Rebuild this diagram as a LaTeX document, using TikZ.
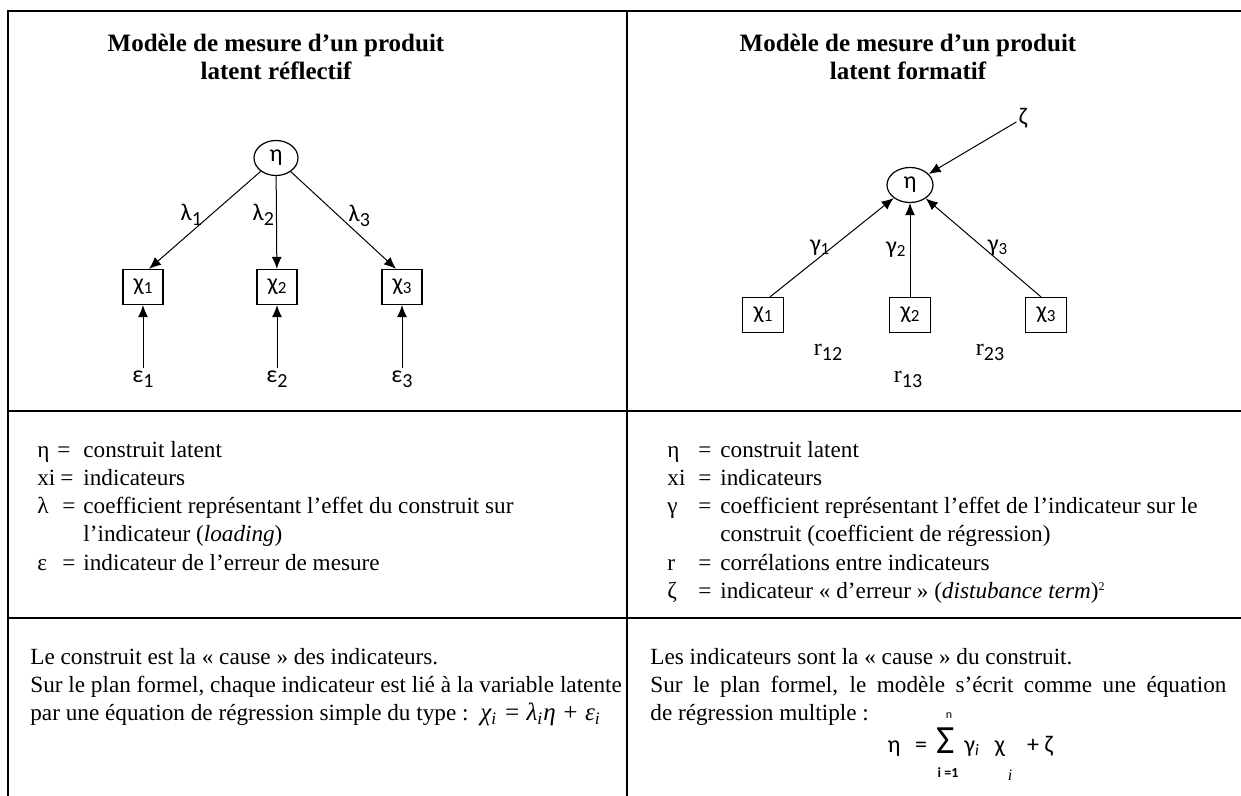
\documentclass[tikz,border=0pt]{standalone}
\usepackage{fontspec}
\setmainfont{Liberation Serif}
\newfontfamily\diagfont{Carlito}
\usetikzlibrary{arrows.meta,positioning,shapes.geometric}

\newcommand{\dsub}[1]{\raisebox{-1.5pt}{\fontsize{8.5}{8.5}\selectfont #1}}
\newcommand{\lsub}[1]{\raisebox{-2.5pt}{\fontsize{10}{10}\selectfont #1}}

\tikzset{
  rule/.style={line width=1pt},
  latent/.style={draw,ellipse,line width=0.6pt,minimum width=22pt,minimum height=17.5pt,inner sep=0pt,font=\diagfont\fontsize{12}{12}\selectfont},
  indic/.style={draw,line width=0.6pt,minimum width=20pt,minimum height=17.5pt,inner sep=0pt,font=\diagfont\fontsize{12}{12}\selectfont},
  lbl/.style={inner sep=1pt,font=\diagfont\fontsize{12}{12}\selectfont},
  link/.style={-{Latex[length=6pt,width=5pt]},line width=0.5pt},
  ttl/.style={anchor=base,inner sep=0pt,font=\bfseries\fontsize{12.5}{14}\selectfont},
  txt/.style={anchor=base west,inner sep=0pt,font=\fontsize{11.6}{14}\selectfont},
  frm/.style={anchor=base,inner sep=0pt,font=\diagfont\fontsize{12}{12}\selectfont},
}

\begin{document}
\begin{tikzpicture}[x=0.5pt,y=-0.5pt]
\useasboundingbox (0,0) rectangle (1241,796);
% table rules
\draw[rule] (1241,11) -- (8,11) -- (8,796);
\draw[rule] (627,11) -- (627,796);
\draw[rule] (8,411) -- (1241,411);
\draw[rule] (8,618) -- (1241,618);

% reflective model
\node[ttl] (ttlL1) at (276,52) {Modèle de mesure d’un produit};
\node[ttl] (ttlL2) at (276,80) {latent réflectif};
\node[latent] (etaL) at (276,158) {η};
\foreach \i/\x in {1/143,2/277,3/402}{
  \node[indic] (xL\i) at (\x,287) {χ\dsub{\i}};
  \node[lbl] (epsL\i) at (\x,379) {ε\lsub{\i}};
  \draw[link] (epsL\i) -- (xL\i);
}
\draw[link] (etaL) -- node[lbl,left=3pt,pos=.45]{λ\lsub{1}} ([xshift=3pt]xL1.north);
\draw[link] (etaL) -- node[lbl,left,pos=.42]{λ\lsub{2}} (xL2);
\draw[link] (etaL) -- node[lbl,right=4pt,pos=.45]{λ\lsub{3}} ([xshift=-3pt]xL3.north);

% formative model
\node[ttl] (ttlR1) at (908,52) {Modèle de mesure d’un produit};
\node[ttl] (ttlR2) at (908,80) {latent formatif};
\node[latent,minimum width=23pt] (etaR) at (910,185) {η};
\node[lbl] (zeta) at (1023,118) {ζ};
\draw[link] (zeta) -- (etaR);
\foreach \i/\x in {1/763,2/910,3/1046}
  \node[indic,minimum width=20.5pt] (xR\i) at (\x,315) {χ\dsub{\i}};
\draw[link] ([xshift=3.5pt]xR1.north) -- node[lbl,left]{γ\dsub{1}} (etaR);
\draw[link] (xR2) -- node[lbl,left=1pt]{γ\dsub{2}} (etaR);
\draw[link] ([xshift=-2.5pt]xR3.north) -- node[lbl,right=1pt]{γ\dsub{3}} (etaR);
\node[lbl] (r12) at (828,352) {{\rmfamily r}\lsub{12}};
\node[lbl] (r23) at (990,352) {{\rmfamily r}\lsub{23}};
\node[lbl] (r13) at (908,379) {{\rmfamily r}\lsub{13}};

% legends
\foreach \k/\yy/\sym/\eqx/\txt in {1/457/η/57/construit latent, 2/485.3/xi/60/indicateurs, 3/513.6/λ/62/coefficient représentant l’effet du construit sur, 5/570.2/ε/62/indicateur de l’erreur de mesure}{
  \node[txt] (symL\k) at (37,\yy) {\sym};
  \node[txt] (eqL\k) at (\eqx,\yy) {=};
  \node[txt] (defL\k) at (83,\yy) {\txt};
}
\node[txt] (defL4) at (83,541.9) {l’indicateur (\textit{loading})};
\foreach \k/\yy/\sym/\txt in {1/457/η/construit latent, 2/485.3/xi/indicateurs, 3/513.6/γ/coefficient représentant l’effet de l’indicateur sur le, 5/570.2/r/corrélations entre indicateurs, 6/598.5/ζ/{indicateur « d’erreur » (\textit{distubance term})\raisebox{4pt}{\fontsize{6}{6}\selectfont 2}}}{
  \node[txt] (symR\k) at (667,\yy) {\sym};
  \node[txt] (eqR\k) at (698,\yy) {=};
  \node[txt] (defR\k) at (720,\yy) {\txt};
}
\node[txt] (defR4) at (720,541.9) {construit (coefficient de régression)};

% equations
\node[txt] (causeL) at (30,664) {Le construit est la « cause » des indicateurs.};
\node[txt] (formL1) at (30,692.3) {Sur le plan formel, chaque indicateur est lié à la variable latente};
\node[txt] (formL2) at (30,720.6) {par une équation de régression simple du type :};
\node[txt,font=\itshape\fontsize{12.5}{14}\selectfont] (eqL) at (480,720.6) {χ\textsubscript{i} = λ\textsubscript{i}η + ε\textsubscript{i}};
\node[txt] (causeR) at (650,664) {Les indicateurs sont la « cause » du construit.};
\node[txt] (formR1) at (650,692.3) {\makebox[288pt][s]{Sur le plan formel, le modèle s’écrit comme une équation}};
\node[txt] (formR2) at (650,720.6) {de régression multiple :};
\node[frm] (etaF) at (894,752) {η};
\node[frm] (eqF) at (921,752) {=};
\node[frm,font=\diagfont\fontsize{20}{20}\selectfont] (sumF) at (946,753) {Σ};
\node[frm,font=\diagfont\fontsize{6}{6}\selectfont] (nF) at (949,718) {n};
\node[frm,font=\diagfont\bfseries\fontsize{7}{7}\selectfont] (lowF) at (948,777) {i =1};
\node[frm] (gamF) at (972,752) {γ\textsubscript{\textit{i}}};
\node[frm] (chiF) at (1000,752) {χ};
\node[frm,font=\rmfamily\itshape\fontsize{8}{8}\selectfont] (iF) at (1010,780) {i};
\node[frm] (plusF) at (1040,752) {+ ζ};
\end{tikzpicture}
\end{document}
